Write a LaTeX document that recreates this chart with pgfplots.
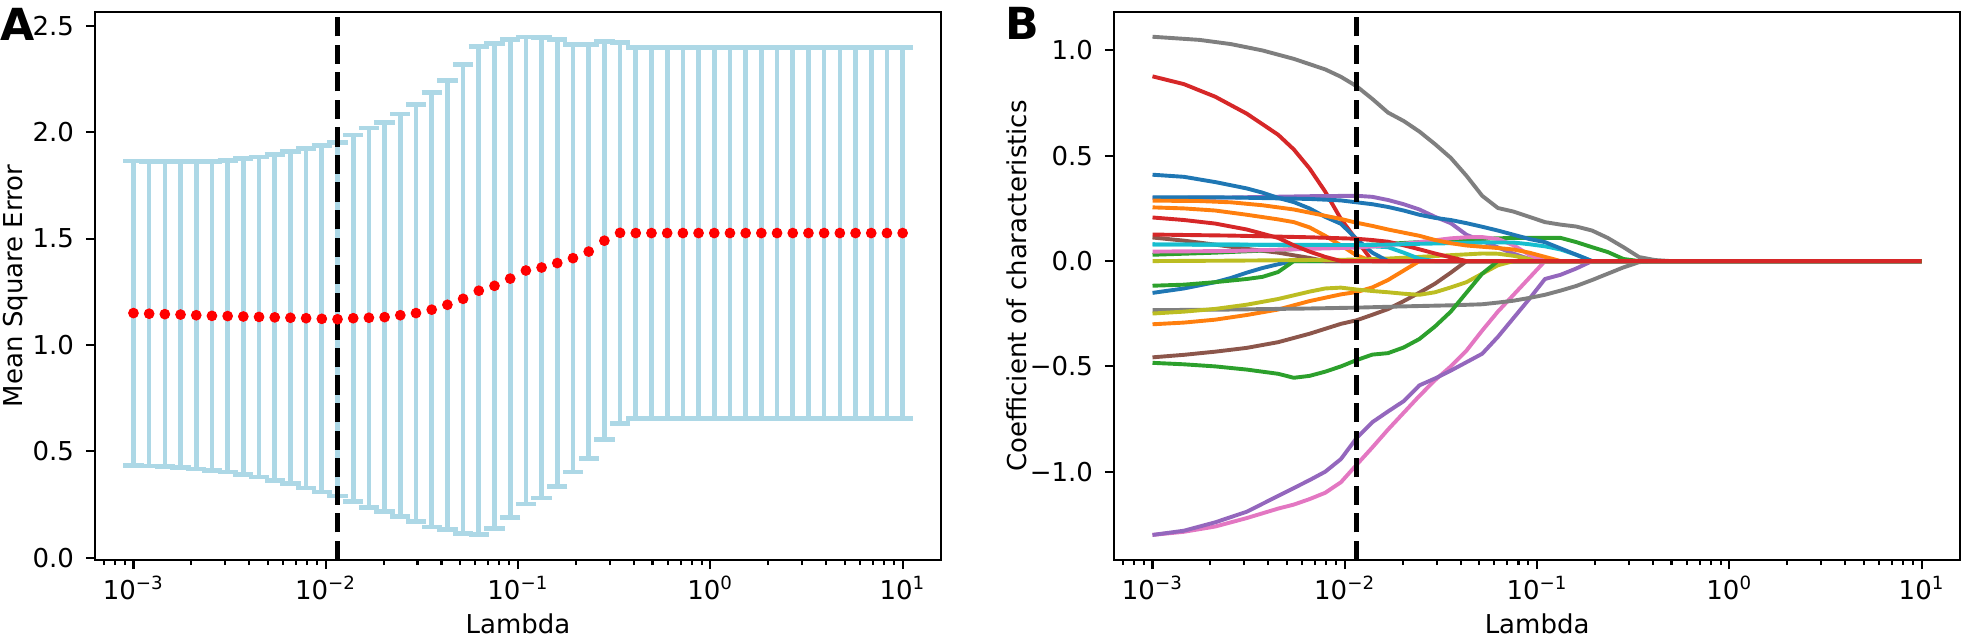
\documentclass[border=0pt]{standalone}
\usepackage{fontspec}
\setmainfont{DejaVu Sans}
\usepackage{pgfplots}
\usepackage{pgfplotstable}
\pgfplotsset{compat=1.18}

\definecolor{lightblue}{HTML}{ADD8E6}
\definecolor{C0}{HTML}{1F77B4}
\definecolor{C1}{HTML}{FF7F0E}
\definecolor{C2}{HTML}{2CA02C}
\definecolor{C3}{HTML}{D62728}
\definecolor{C4}{HTML}{9467BD}
\definecolor{C5}{HTML}{8C564B}
\definecolor{C6}{HTML}{E377C2}
\definecolor{C7}{HTML}{7F7F7F}
\definecolor{C8}{HTML}{BCBD22}
\definecolor{C9}{HTML}{17BECF}

\newcommand\supx[1]{\textsuperscript{#1}}

% cross-validated MSE: lambda, mean, half-width of the bar
\pgfplotstableread{
lam mse err
0.001 1.150 0.715
0.0012068 1.147 0.715
0.0014563 1.145 0.717
0.0017575 1.143 0.718
0.002121 1.140 0.722
0.0025595 1.137 0.726
0.0030888 1.136 0.732
0.0037276 1.134 0.742
0.0044984 1.132 0.752
0.0054287 1.130 0.765
0.0065513 1.128 0.780
0.007906 1.126 0.798
0.009541 1.123 0.813
0.011514 1.121 0.831
0.013895 1.126 0.861
0.016768 1.128 0.891
0.020236 1.131 0.913
0.024421 1.140 0.945
0.029471 1.150 0.980
0.035565 1.166 1.021
0.042919 1.189 1.055
0.051795 1.217 1.101
0.062506 1.255 1.146
0.075431 1.278 1.140
0.09103 1.312 1.122
0.10985 1.350 1.097
0.13257 1.364 1.082
0.15999 1.385 1.051
0.19307 1.408 1.004
0.233 1.439 0.973
0.28118 1.490 0.935
0.33932 1.527 0.895
0.40949 1.526 0.872
0.49417 1.526 0.872
0.59636 1.526 0.872
0.71969 1.526 0.872
0.86851 1.526 0.872
1.0481 1.526 0.872
1.2649 1.526 0.872
1.5264 1.526 0.872
1.8421 1.526 0.872
2.223 1.526 0.872
2.6827 1.526 0.872
3.2375 1.526 0.872
3.9069 1.526 0.872
4.7149 1.526 0.872
5.6899 1.526 0.872
6.8665 1.526 0.872
8.2864 1.526 0.872
10.0 1.526 0.872
}\msedata

\pgfplotsset{coef/.style={line width=1.5pt, line join=round}}

\begin{document}
\begin{tikzpicture}
\useasboundingbox (0,0) rectangle (756.5pt,244.6pt);

\node[anchor=base west, inner sep=0pt, font=\fontsize{17}{17}\selectfont\bfseries] at (0pt,229.2pt) {A};
\node[anchor=base west, inner sep=0pt, font=\fontsize{17}{17}\selectfont\bfseries] at (386.5pt,229.6pt) {B};

% panel A
\begin{axis}[at={(36.54pt,29.23pt)}, anchor=south west,
  scale only axis, width=325.4pt, height=210.8pt,
  xmode=log, xmin=6.3096e-4, xmax=15.849,
  xtick={0.001,0.01,0.1,1,10},
  xticklabels={10\supx{−3},10\supx{−2},10\supx{−1},10\supx{0},10\supx{1}},
  minor xtick={0.0007,0.0008,0.0009,0.002,0.003,0.004,0.005,0.006,0.007,0.008,0.009,0.02,0.03,0.04,0.05,0.06,0.07,0.08,0.09,0.2,0.3,0.4,0.5,0.6,0.7,0.8,0.9,2,3,4,5,6,7,8,9},
  xtick pos=bottom, ytick pos=left,
  tick align=outside,
  major tick length=3.5pt, minor tick length=2pt,
  tick style={black, line width=0.8pt},
  axis line style={line width=0.8pt},
  xticklabel style={anchor=base, inner sep=0pt, yshift=-11.5pt},
  yticklabel style={anchor=east, inner sep=0pt, xshift=-4.4pt},
  xlabel={Lambda},
  xlabel style={at={(axis description cs:0.5,-0.1369)}, anchor=base, inner sep=0pt, yshift=0.7pt},
  clip=false,
  ymin=-0.01, ymax=2.565,
  ytick={0,0.5,1,1.5,2,2.5},
  yticklabels={0.0,0.5,1.0,1.5,2.0,2.5},
  ylabel={Mean Square Error},
  ylabel style={at={(axis description cs:-0.0859,0.5)}, anchor=base},
]
\addplot[draw=none, mark=none,
  error bars/y dir=both, error bars/y explicit,
  error bars/error mark=|,
  error bars/error bar style={draw=lightblue, line width=1.8pt},
  error bars/error mark options={draw=lightblue, line width=1.8pt, mark size=3.9pt}]
  table[x=lam, y=mse, y error=err] {\msedata};
\addplot[black, line width=2pt, dash pattern=on 7.4pt off 3.2pt]
  coordinates {(0.011514,-0.01) (0.011514,2.565)};
\addplot[only marks, mark=*, mark size=1.85pt, mark options={draw=red, fill=red}]
  table[x=lam, y=mse] {\msedata};
\end{axis}

% panel B
\begin{axis}[at={(428.46pt,29.23pt)}, anchor=south west,
  scale only axis, width=325.4pt, height=210.8pt,
  xmode=log, xmin=6.3096e-4, xmax=15.849,
  xtick={0.001,0.01,0.1,1,10},
  xticklabels={10\supx{−3},10\supx{−2},10\supx{−1},10\supx{0},10\supx{1}},
  minor xtick={0.0007,0.0008,0.0009,0.002,0.003,0.004,0.005,0.006,0.007,0.008,0.009,0.02,0.03,0.04,0.05,0.06,0.07,0.08,0.09,0.2,0.3,0.4,0.5,0.6,0.7,0.8,0.9,2,3,4,5,6,7,8,9},
  xtick pos=bottom, ytick pos=left,
  tick align=outside,
  major tick length=3.5pt, minor tick length=2pt,
  tick style={black, line width=0.8pt},
  axis line style={line width=0.8pt},
  xticklabel style={anchor=base, inner sep=0pt, yshift=-11.5pt},
  yticklabel style={anchor=east, inner sep=0pt, xshift=-4.4pt},
  xlabel={Lambda},
  xlabel style={at={(axis description cs:0.5,-0.1369)}, anchor=base, inner sep=0pt, yshift=0.7pt},
  clip=false,
  ymin=-1.419, ymax=1.183,
  ytick={-1,-0.5,0,0.5,1},
  yticklabels={−1.0,−0.5,0.0,0.5,1.0},
  ylabel={Coefficient of characteristics},
  ylabel style={at={(axis description cs:-0.1034,0.5)}, anchor=base},
]
% 0 blue
\addplot[coef, C0] coordinates {(0.001,-0.151)(0.0014563,-0.13)(0.002121,-0.1)(0.0025595,-0.08)(0.0030888,-0.055)(0.0037276,-0.033)(0.0044984,-0.015)(0.0054287,0)(10,0)};
% 1 orange
\addplot[coef, C1] coordinates {(0.001,0.255)(0.0014563,0.25)(0.002121,0.24)(0.0030888,0.22)(0.0044984,0.198)(0.0054287,0.185)(0.0065513,0.16)(0.007906,0.12)(0.009541,0.075)(0.011514,0.027)(0.013895,0)(10,0)};
% 2 green
\addplot[coef, C2] coordinates {(0.001,-0.117)(0.0014563,-0.112)(0.002121,-0.1)(0.0030888,-0.085)(0.0037276,-0.075)(0.0044984,-0.052)(0.0054287,0)(10,0)};
% 3 red
\addplot[coef, C3] coordinates {(0.001,0.877)(0.0014563,0.84)(0.002121,0.78)(0.0030888,0.70)(0.0044984,0.60)(0.0054287,0.53)(0.0065513,0.44)(0.007906,0.33)(0.009541,0.20)(0.011514,0.10)(0.013895,0)(10,0)};
% 4 purple
\addplot[coef, C4] coordinates {(0.001,0.30)(0.0025595,0.302)(0.0065513,0.308)(0.011514,0.31)(0.013895,0.305)(0.016768,0.29)(0.020236,0.27)(0.024421,0.245)(0.029471,0.21)(0.035565,0.18)(0.042919,0.125)(0.051795,0.095)(0.062506,0.065)(0.075431,0.035)(0.09103,0.01)(0.10985,0)(10,0)};
% 5 brown
\addplot[coef, C5] coordinates {(0.001,0.112)(0.0014563,0.097)(0.002121,0.078)(0.0030888,0.058)(0.0044984,0.04)(0.0065513,0.015)(0.007906,0)(10,0)};
% 6 pink
\addplot[coef, C6] coordinates {(0.001,-1.3)(0.0014563,-1.285)(0.002121,-1.26)(0.0030888,-1.22)(0.0044984,-1.175)(0.0054287,-1.156)(0.0065513,-1.13)(0.007906,-1.1)(0.009541,-1.05)(0.011514,-0.967)(0.013895,-0.885)(0.016768,-0.8)(0.020236,-0.72)(0.024421,-0.64)(0.029471,-0.565)(0.035565,-0.5)(0.042919,-0.425)(0.051795,-0.33)(0.062506,-0.24)(0.075431,-0.16)(0.09103,-0.08)(0.10985,0)(10,0)};
% 7 gray
\addplot[coef, C7] coordinates {(0.001,1.065)(0.0017575,1.05)(0.0025595,1.03)(0.0037276,1.0)(0.0054287,0.96)(0.007906,0.91)(0.009541,0.875)(0.011514,0.83)(0.013895,0.77)(0.016768,0.705)(0.020236,0.665)(0.024421,0.615)(0.029471,0.555)(0.035565,0.49)(0.042919,0.405)(0.051795,0.31)(0.062506,0.252)(0.075431,0.235)(0.09103,0.21)(0.10985,0.185)(0.13257,0.173)(0.15999,0.164)(0.19307,0.145)(0.233,0.11)(0.28118,0.066)(0.33932,0.019)(0.40949,0.005)(0.49417,0)(10,0)};
% 8 olive
\addplot[coef, C8] coordinates {(0.001,0)(0.0025595,0.002)(0.0065513,0.005)(0.011514,0.007)(0.016768,0.012)(0.024421,0.02)(0.035565,0.028)(0.051795,0.036)(0.062506,0.035)(0.075431,0.025)(0.09103,0.01)(0.10985,0)(10,0)};
% 9 cyan
\addplot[coef, C9] coordinates {(0.001,0.079)(0.0025595,0.078)(0.0065513,0.076)(0.011514,0.074)(0.016768,0.066)(0.020236,0.04)(0.024421,0.011)(0.029471,0)(10,0)};
% 10 blue
\addplot[coef, C0] coordinates {(0.001,0.41)(0.0014563,0.40)(0.002121,0.375)(0.0030888,0.345)(0.0037276,0.325)(0.0044984,0.30)(0.0054287,0.28)(0.0065513,0.25)(0.007906,0.21)(0.009541,0.177)(0.011514,0.105)(0.013895,0.04)(0.016768,0)(10,0)};
% 11 orange
\addplot[coef, C1] coordinates {(0.001,-0.3)(0.0014563,-0.292)(0.002121,-0.278)(0.0030888,-0.256)(0.0044984,-0.23)(0.0065513,-0.19)(0.009541,-0.158)(0.011514,-0.147)(0.013895,-0.125)(0.016768,-0.09)(0.020236,-0.045)(0.024421,0)(10,0)};
% 12 green
\addplot[coef, C2] coordinates {(0.001,0.03)(0.002121,0.04)(0.0044984,0.053)(0.0065513,0.06)(0.011514,0.074)(0.016768,0.082)(0.024421,0.09)(0.035565,0.098)(0.051795,0.106)(0.075431,0.11)(0.13257,0.11)(0.15999,0.09)(0.19307,0.066)(0.233,0.043)(0.28118,0.01)(0.33932,0)(10,0)};
% 13 red
\addplot[coef, C3] coordinates {(0.001,0.126)(0.0025595,0.121)(0.0065513,0.113)(0.011514,0.106)(0.013895,0.1)(0.016768,0.092)(0.020236,0.075)(0.024421,0.056)(0.029471,0.036)(0.035565,0.018)(0.042919,0)(10,0)};
% 14 purple
\addplot[coef, C4] coordinates {(0.001,-1.3)(0.0014563,-1.28)(0.002121,-1.24)(0.0030888,-1.19)(0.0044984,-1.115)(0.0065513,-1.04)(0.007906,-1.0)(0.009541,-0.94)(0.011514,-0.84)(0.013895,-0.765)(0.016768,-0.714)(0.020236,-0.665)(0.024421,-0.59)(0.029471,-0.557)(0.035565,-0.52)(0.042919,-0.48)(0.051795,-0.44)(0.062506,-0.36)(0.075431,-0.27)(0.09103,-0.18)(0.10985,-0.085)(0.13257,-0.065)(0.15999,-0.035)(0.19307,0)(10,0)};
% 15 brown
\addplot[coef, C5] coordinates {(0.001,-0.457)(0.0014563,-0.445)(0.002121,-0.43)(0.0030888,-0.412)(0.0044984,-0.385)(0.0065513,-0.345)(0.009541,-0.298)(0.011514,-0.281)(0.013895,-0.255)(0.016768,-0.228)(0.020236,-0.19)(0.024421,-0.15)(0.029471,-0.107)(0.035565,-0.055)(0.042919,0)(10,0)};
% 16 pink
\addplot[coef, C6] coordinates {(0.001,0.045)(0.0025595,0.048)(0.0065513,0.058)(0.011514,0.064)(0.016768,0.075)(0.024421,0.09)(0.035565,0.108)(0.042919,0.113)(0.051795,0.114)(0.062506,0.105)(0.075431,0.075)(0.09103,0.03)(0.10985,0)(10,0)};
% 17 gray
\addplot[coef, C7] coordinates {(0.001,-0.233)(0.0025595,-0.23)(0.0065513,-0.225)(0.011514,-0.221)(0.020236,-0.215)(0.035565,-0.21)(0.051795,-0.205)(0.062506,-0.197)(0.075431,-0.188)(0.09103,-0.175)(0.10985,-0.16)(0.13257,-0.14)(0.15999,-0.118)(0.19307,-0.09)(0.233,-0.06)(0.28118,-0.03)(0.33932,-0.005)(0.40949,0)(10,0)};
% 18 olive
\addplot[coef, C8] coordinates {(0.001,-0.249)(0.0014563,-0.24)(0.002121,-0.227)(0.0030888,-0.207)(0.0044984,-0.18)(0.0065513,-0.145)(0.007906,-0.13)(0.009541,-0.126)(0.011514,-0.135)(0.013895,-0.142)(0.016768,-0.148)(0.020236,-0.155)(0.024421,-0.16)(0.029471,-0.148)(0.035565,-0.125)(0.042919,-0.1)(0.051795,-0.06)(0.062506,-0.02)(0.075431,0)(10,0)};
% 19 cyan
\addplot[coef, C9] coordinates {(0.001,0.079)(0.0025595,0.078)(0.0065513,0.077)(0.011514,0.076)(0.016768,0.078)(0.024421,0.082)(0.035565,0.085)(0.051795,0.088)(0.075431,0.088)(0.09103,0.08)(0.10985,0.07)(0.13257,0.055)(0.15999,0.03)(0.19307,0)(10,0)};
% 20 blue
\addplot[coef, C0] coordinates {(0.001,0.303)(0.0025595,0.302)(0.0065513,0.295)(0.009541,0.288)(0.011514,0.279)(0.013895,0.27)(0.016768,0.257)(0.020236,0.24)(0.024421,0.22)(0.029471,0.205)(0.035565,0.195)(0.042919,0.18)(0.051795,0.163)(0.062506,0.145)(0.075431,0.125)(0.09103,0.105)(0.10985,0.09)(0.13257,0.06)(0.15999,0.03)(0.19307,0)(10,0)};
% 21 orange
\addplot[coef, C1] coordinates {(0.001,0.287)(0.0017575,0.285)(0.0025595,0.279)(0.0037276,0.265)(0.0054287,0.245)(0.0065513,0.23)(0.007906,0.215)(0.009541,0.2)(0.011514,0.182)(0.013895,0.167)(0.016768,0.15)(0.020236,0.135)(0.024421,0.12)(0.029471,0.1)(0.035565,0.085)(0.042919,0.074)(0.051795,0.068)(0.062506,0.062)(0.075431,0.055)(0.09103,0.04)(0.10985,0.02)(0.13257,0)(10,0)};
% 22 green
\addplot[coef, C2] coordinates {(0.001,-0.483)(0.0014563,-0.49)(0.002121,-0.5)(0.0030888,-0.515)(0.0044984,-0.535)(0.0054287,-0.554)(0.0065513,-0.545)(0.007906,-0.525)(0.009541,-0.5)(0.011514,-0.47)(0.013895,-0.444)(0.016768,-0.437)(0.020236,-0.41)(0.024421,-0.37)(0.029471,-0.31)(0.035565,-0.24)(0.042919,-0.15)(0.051795,-0.06)(0.062506,0)(10,0)};
% 23 red
\addplot[coef, C3] coordinates {(0.001,0.207)(0.0014563,0.195)(0.002121,0.178)(0.0030888,0.15)(0.0044984,0.11)(0.0054287,0.075)(0.0065513,0.045)(0.007906,0.02)(0.009541,0)(10,0)};
\addplot[black, line width=2pt, dash pattern=on 7.4pt off 3.2pt]
  coordinates {(0.011514,-1.419) (0.011514,1.183)};
\end{axis}
\end{tikzpicture}
\end{document}
